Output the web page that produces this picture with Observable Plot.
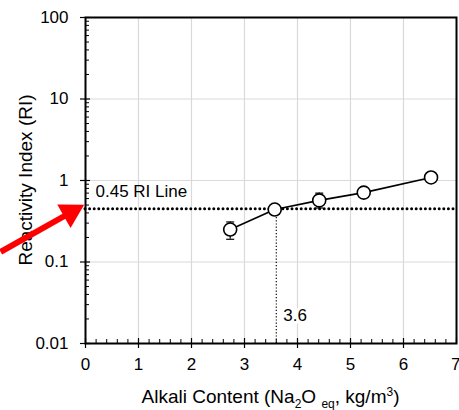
<!DOCTYPE html>
<html><head><meta charset="utf-8">
<script src="https://cdn.jsdelivr.net/npm/d3@7"></script>
<script src="https://cdn.jsdelivr.net/npm/@observablehq/plot@0.6"></script>
<style>
body{margin:0;background:#fff}
svg{overflow:visible}
</style>
</head><body><div id="chart"></div>
<script>
// Data
const alkali = [2.73, 3.57, 4.41, 5.25, 6.52];
const ri     = [0.25, 0.44, 0.57, 0.71, 1.09];
const riLow  = [0.19, 0.44, 0.46, 0.71, 1.09];
const riHigh = [0.31, 0.44, 0.70, 0.71, 1.09];
const threshold = 0.45;
const thresholdAlkali = 3.6;
const thresholdLabel = "0.45 RI Line";
const alkaliLabel = "3.6";
const xTicks = [0, 1, 2, 3, 4, 5, 6, 7];
const yTicks = [0.01, 0.1, 1, 10, 100];
const xGrid = [1, 2, 3, 4, 5, 6];
const yGrid = [0.1, 1, 10];
// red annotation arrow (data coordinates)
const arrowStart = {x: -1.60, y: 0.133};
const arrowHeadCenter = {x: -0.28, y: 0.405};

const xMinor = d3.range(0, 7.0001, 0.2).map(v => +v.toFixed(1));
const yMinor = [];
[0.01, 0.1, 1, 10].forEach(d => { for (let k = 2; k <= 9; k++) yMinor.push(+(d * k).toPrecision(3)); });

const points = alkali.map((x, i) => ({x, y: ri[i], lo: riLow[i], hi: riHigh[i]}));
const bars = points.filter(d => d.hi > d.lo);
const capSymbol = {draw(ctx) { ctx.moveTo(-4, 0); ctx.lineTo(4, 0); }};

const font = "'Liberation Sans', Arial, sans-serif";
const W = 459, H = 410, mL = 85, mR = 3, mT = 17, mB = 67;
const lastX = xTicks[xTicks.length - 1];

const plot = Plot.plot({
  width: W, height: H,
  marginLeft: mL, marginRight: mR, marginTop: mT, marginBottom: mB,
  style: {fontFamily: font, fontSize: "17px", color: "#000", background: "#fff", overflow: "visible"},
  x: {domain: [0, 7], label: null},
  y: {type: "log", domain: [0.01, 100], label: null},
  marks: [
    Plot.gridX(xGrid, {stroke: "#d9d9d9", strokeOpacity: 1, strokeWidth: 1.2}),
    Plot.gridY(yGrid, {stroke: "#d9d9d9", strokeOpacity: 1, strokeWidth: 1.2}),
    Plot.axisX(xMinor, {tickSize: -4, tickFormat: () => "", strokeWidth: 1}),
    Plot.axisX(xTicks, {tickSize: -5, tickFormat: () => "", strokeWidth: 1.2}),
    Plot.axisX(xTicks.filter(t => t !== lastX), {tickSize: 5, tickPadding: 9, tickFormat: d => String(d), strokeWidth: 1.2}),
    Plot.axisX([lastX], {tickSize: 5, tickPadding: 9, tickFormat: d => String(d), strokeWidth: 1.2, textAnchor: "end", dx: 4}),
    Plot.axisY(yMinor, {tickSize: -4, tickFormat: () => "", strokeWidth: 1}),
    Plot.axisY(yTicks, {tickSize: -5, tickFormat: () => "", strokeWidth: 1.2}),
    Plot.axisY(yTicks, {tickSize: 5, tickPadding: 12, tickFormat: d => String(d), strokeWidth: 1.2}),
    Plot.frame({stroke: "#000", strokeWidth: 2}),
    Plot.ruleX([thresholdAlkali], {y1: 0.01, y2: threshold, stroke: "#000", strokeWidth: 1.2, strokeDasharray: "1.2,2"}),
    Plot.text([alkaliLabel], {x: thresholdAlkali, y: 0.0218, text: d => d, dx: 7, textAnchor: "start",
      fill: "#000", stroke: "#fff", strokeWidth: 6, paintOrder: "stroke", fontSize: 17}),
    Plot.ruleY([threshold], {stroke: "#000", strokeWidth: 3, strokeDasharray: "0,4.6", strokeLinecap: "round"}),
    Plot.text([thresholdLabel], {x: 0, y: threshold, text: d => d, dx: 10, dy: -17, textAnchor: "start", fill: "#000", fontSize: 17}),
    Plot.ruleX(bars, {x: "x", y1: "lo", y2: "hi", stroke: "#000", strokeWidth: 1.2}),
    Plot.dot(bars, {x: "x", y: "lo", symbol: capSymbol, stroke: "#000", strokeWidth: 1.2, r: 4}),
    Plot.dot(bars, {x: "x", y: "hi", symbol: capSymbol, stroke: "#000", strokeWidth: 1.2, r: 4}),
    Plot.line(points, {x: "x", y: "y", stroke: "#000", strokeWidth: 1.6}),
    Plot.dot(points, {x: "x", y: "y", r: 6.5, fill: "#fff", stroke: "#000", strokeWidth: 1.6}),
    Plot.link([0], {x1: () => arrowStart.x, y1: () => arrowStart.y, x2: () => arrowHeadCenter.x, y2: () => arrowHeadCenter.y,
      stroke: "#ff0000", strokeWidth: 6, strokeLinecap: "butt"}),
    Plot.dot([0], {x: () => arrowHeadCenter.x, y: () => arrowHeadCenter.y, symbol: "triangle", r: 10, rotate: 60.4,
      fill: "#ff0000", stroke: "none"})
  ]
});

const svg = d3.select(plot);
// x-axis title with subscripts / superscript
const xt = svg.append("text")
  .attr("x", mL + (W - mL - mR) / 2).attr("y", 403)
  .attr("text-anchor", "middle")
  .attr("font-family", font).attr("font-size", 19).attr("fill", "#000");
xt.append("tspan").text("Alkali Content (Na");
xt.append("tspan").attr("dy", 5).attr("font-size", 12).text("2");
xt.append("tspan").attr("dy", -5).text("O ");
xt.append("tspan").attr("dy", 5).attr("font-size", 12).text("eq");
xt.append("tspan").attr("dy", -5).text(", kg/m");
xt.append("tspan").attr("dy", -7).attr("font-size", 12).text("3");
xt.append("tspan").attr("dy", 7).text(")");
// y-axis title
svg.append("text")
  .attr("transform", `translate(25,${mT + (H - mT - mB) / 2}) rotate(-90)`)
  .attr("text-anchor", "middle").attr("dy", "0.35em")
  .attr("font-family", font).attr("font-size", 19).attr("fill", "#000")
  .text("Reactivity Index (RI)");
// bring the red arrow on top so it overlays the axis title
const links = plot.querySelectorAll("g[aria-label='link']");
links.forEach(n => plot.appendChild(n));
const dots = plot.querySelectorAll("g[aria-label='dot']");
plot.appendChild(dots[dots.length - 1]);

document.getElementById("chart").appendChild(plot);
</script>
</body></html>
